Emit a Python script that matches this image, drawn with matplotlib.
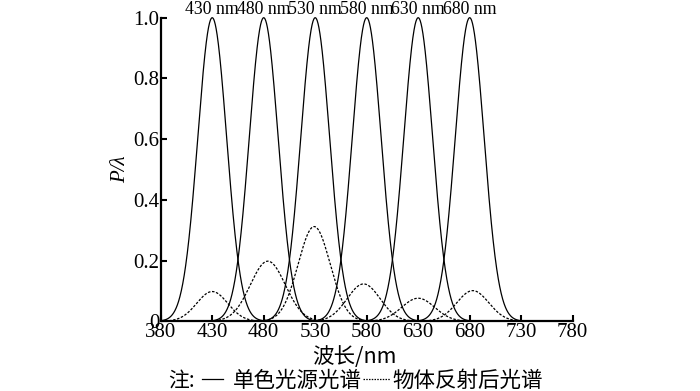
import numpy as np
import matplotlib
matplotlib.use("Agg")
import matplotlib.pyplot as plt
from matplotlib.lines import Line2D

# Data
source_centers = [430, 480, 530, 580, 630, 680]
source_peaks = [1.0, 1.0, 1.0, 1.0, 1.0, 1.0]
source_sigma = [14, 14, 14, 14, 14, 14]
reflect_centers = [430, 484, 529, 577, 630, 683]
reflect_peaks = [0.098, 0.198, 0.312, 0.123, 0.076, 0.101]
reflect_sigma = [15, 17, 15.5, 16, 16, 15.5]
peak_labels = ["430 nm", "480 nm", "530 nm", "580 nm", "630 nm", "680 nm"]
x_ticks = [380, 430, 480, 530, 580, 630, 680, 730, 780]
y_ticks = [0, 0.2, 0.4, 0.6, 0.8, 1.0]
y_ticklabels = ["0", "0.2", "0.4", "0.6", "0.8", "1.0"]

serif = ["Liberation Serif", "DejaVu Serif"]
cjk = ["Noto Sans CJK SC", "Liberation Serif", "DejaVu Sans"]

fig = plt.figure(figsize=(7, 3.91), dpi=100)
ax = fig.add_axes([0.2296, 0.1783, 0.8181 - 0.2296, 0.9547 - 0.1783])

wl = np.linspace(380, 780, 2001)
for c, p, s in zip(source_centers, source_peaks, source_sigma):
    y = p * np.exp(-(wl - c) ** 2 / (2 * s ** 2))
    ax.plot(wl, y, color="black", lw=0.9, clip_on=False)
for c, p, s in zip(reflect_centers, reflect_peaks, reflect_sigma):
    y = p * np.exp(-(wl - c) ** 2 / (2 * s ** 2))
    ax.plot(wl, y, color="black", lw=0.9, ls=(0, (2, 1.3)))

for c, lab in zip(source_centers, peak_labels):
    ax.text(c, 1.0, lab, ha="center", va="bottom", fontsize=12.8,
            family=serif)

ax.set_xlim(380, 780)
ax.set_ylim(0, 1.0)
ax.set_xticks(x_ticks)
ax.set_xticklabels([str(v) for v in x_ticks], family=serif, fontsize=15)
ax.set_yticks(y_ticks)
ax.set_yticklabels(y_ticklabels, family=serif, fontsize=15)
ax.tick_params(direction="in", length=4, width=1.5, pad=1)
for side in ["top", "right"]:
    ax.spines[side].set_visible(False)
for side in ["left", "bottom"]:
    ax.spines[side].set_linewidth(1.6)

ax.set_ylabel("P/λ", family=serif, style="italic", fontsize=15, labelpad=2)

fig.text(0.507, 0.087, "波长/nm", ha="center", va="center", fontsize=15.5,
         family=cjk)

# Legend line
yl = 0.026
fig.text(0.240, yl, "注:", ha="left", va="center", fontsize=15, family=cjk)
fig.add_artist(Line2D([0.289, 0.318], [yl + 0.004, yl + 0.004], color="black",
                      lw=0.9, transform=fig.transFigure))
fig.text(0.332, yl, "单色光源光谱", ha="left", va="center", fontsize=15.5,
         family=cjk)
fig.add_artist(Line2D([0.519, 0.557], [yl + 0.004, yl + 0.004], color="black",
                      lw=0.9, ls=(0, (1.2, 1.0)), transform=fig.transFigure))
fig.text(0.561, yl, "物体反射后光谱", ha="left", va="center", fontsize=15.5,
         family=cjk)

fig.savefig("out.png", dpi=100)
